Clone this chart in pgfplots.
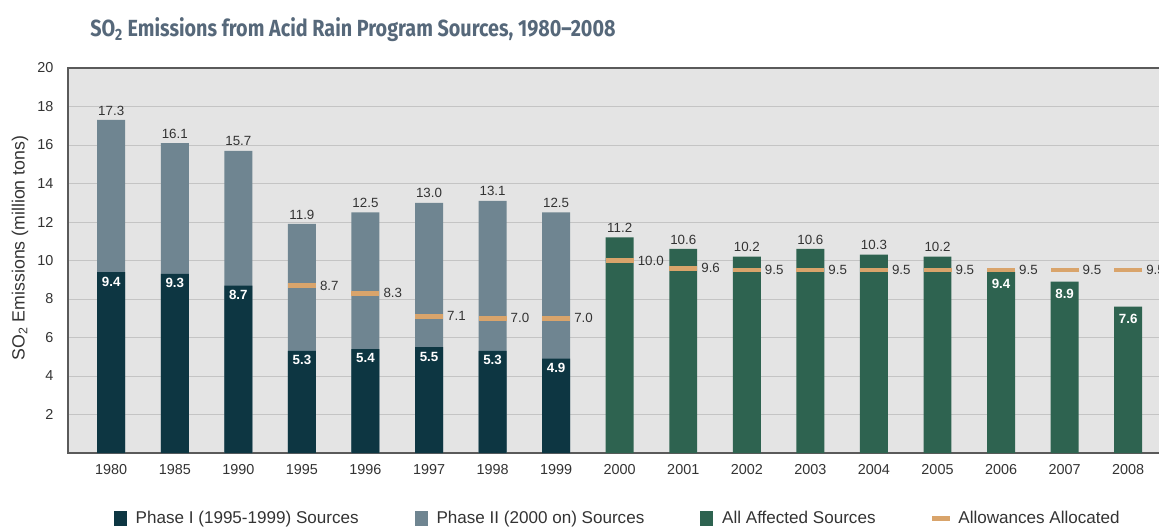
\documentclass[border=0pt]{standalone}
\usepackage{pgfplots}
\pgfplotsset{compat=1.18}
\usepackage{fontspec}
\setmainfont{Liberation Sans}
\newfontfamily\titlefont{Fira Sans}
\definecolor{phaseI}{HTML}{0D3642}
\definecolor{phaseII}{HTML}{6F8591}
\definecolor{allaff}{HTML}{2E6350}
\definecolor{allow}{HTML}{D9A46B}
\definecolor{bgc}{HTML}{E4E4E4}
\definecolor{gridc}{HTML}{C4C4C4}
\definecolor{framec}{HTML}{5A5A5A}
\definecolor{txt}{HTML}{333333}
\definecolor{titlec}{HTML}{56687A}
\newsavebox\titlebox
\sbox\titlebox{\color{titlec}\titlefont\fontsize{17.5}{20}\selectfont\bfseries SO\textsubscript{2} Emissions from Acid Rain Program Sources, 1980–2008}
\begin{document}
\begin{tikzpicture}
\useasboundingbox (0,0) rectangle (869.25pt,396.75pt);
\pgfmathsetmacro\tsx{394/\the\wd\titlebox}
\node[anchor=base west, inner sep=0pt] at (67.5pt,369pt) {\scalebox{\tsx}[1]{\usebox\titlebox}};
\node[rotate=90, text=txt, font=\fontsize{13.3}{15}\selectfont] at (15pt,210.75pt) {SO\textsubscript{2} Emissions (million tons)};
\begin{axis}[
  at={(51pt,57pt)}, anchor=south west, scale only axis,
  width=828.5pt, height=288.75pt,
  xmin=-0.68, xmax=16.7, ymin=0, ymax=20,
  clip=false,
  /pgf/number format/assume math mode=true,
  axis background/.style={fill=bgc},
  xtick={0,...,16},
  xticklabels={1980,1985,1990,1995,1996,1997,1998,1999,2000,2001,2002,2003,2004,2005,2006,2007,2008},
  ytick={2,4,...,20},
  ymajorgrids, grid style={gridc, line width=0.75pt},
  major tick length=0pt,
  axis line style={framec, line width=1.5pt},
  tick label style={font=\fontsize{10.8}{12}\selectfont, text=txt},
  yticklabel style={xshift=-7.5pt},
  xticklabel style={yshift=-5pt},
  bar width=0.44,
  nodes near coords style={font=\fontsize{10}{12}\selectfont, text=txt,
    /pgf/number format/fixed, /pgf/number format/fixed zerofill,
    /pgf/number format/precision=1, /pgf/number format/assume math mode=true},
  legend style={at={(0.498,-0.169)}, anchor=center, draw=none, fill=none,
    font=\fontsize{12.8}{14}\selectfont, text=txt,
    /tikz/every odd column/.append style={column sep=5pt},
    /tikz/every even column/.append style={column sep=40pt}},
  legend columns=4,
]
% totals (phase II colour behind)
\addplot[ybar, bar shift=0pt, fill=phaseII, draw=none, forget plot,
  nodes near coords, nodes near coords align=vertical] coordinates {
  (0,17.3) (1,16.1) (2,15.7) (3,11.9) (4,12.5) (5,13.0) (6,13.1) (7,12.5)};
% phase I
\addplot[ybar, bar shift=0pt, fill=phaseI, draw=none, forget plot,
  nodes near coords, every node near coord/.append style={anchor=north, text=white, font=\fontsize{10}{12}\selectfont\bfseries}] coordinates {
  (0,9.4) (1,9.3) (2,8.7) (3,5.3) (4,5.4) (5,5.5) (6,5.3) (7,4.9)};
% all affected sources
\addplot[ybar, bar shift=0pt, fill=allaff, draw=none, forget plot,
  nodes near coords] coordinates {
  (8,11.2) (9,10.6) (10,10.2) (11,10.6) (12,10.3) (13,10.2)};
\addplot[ybar, bar shift=0pt, fill=allaff, draw=none, forget plot,
  nodes near coords, every node near coord/.append style={anchor=north, text=white, font=\fontsize{10}{12}\selectfont\bfseries, yshift=-2pt}] coordinates {
  (14,9.4) (15,8.9) (16,7.6)};
% allowances
\addplot[only marks, mark=-, mark size=10.5pt, allow, line width=3.5pt, forget plot,
  nodes near coords, every node near coord/.append style={anchor=west, xshift=8.5pt, text=txt}] coordinates {
  (3,8.7) (4,8.3) (5,7.1) (6,7.0) (7,7.0) (8,10.0) (9,9.6) (10,9.5) (11,9.5) (12,9.5) (13,9.5) (14,9.5) (15,9.5) (16,9.5)};
\addlegendimage{legend image code/.code={\fill[phaseI] (0pt,-5.25pt) rectangle (9pt,5.25pt);}}
\addlegendentry{Phase I (1995-1999) Sources}
\addlegendimage{legend image code/.code={\fill[phaseII] (0pt,-5.25pt) rectangle (9pt,5.25pt);}}
\addlegendentry{Phase II (2000 on) Sources}
\addlegendimage{legend image code/.code={\fill[allaff] (0pt,-5.25pt) rectangle (9pt,5.25pt);}}
\addlegendentry{All Affected Sources}
\addlegendimage{legend image code/.code={\fill[allow] (0pt,-1.5pt) rectangle (12.75pt,1.5pt);}}
\addlegendentry{Allowances Allocated}
\end{axis}
\end{tikzpicture}
\end{document}
